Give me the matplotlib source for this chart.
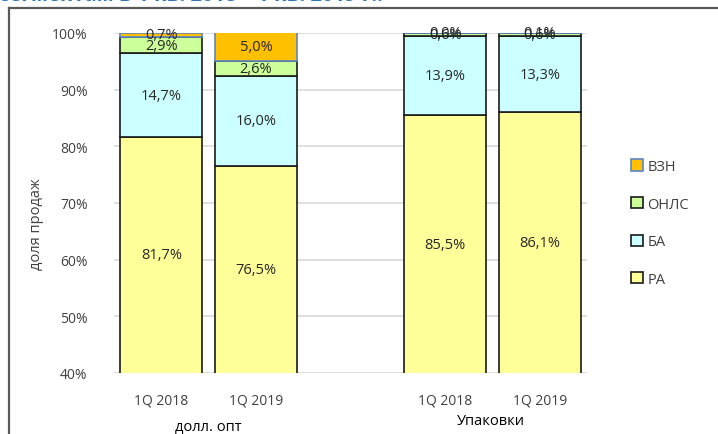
import matplotlib
matplotlib.use("Agg")
import matplotlib.pyplot as plt
from matplotlib.lines import Line2D
from matplotlib.patches import Patch
import numpy as np

plt.rcParams['font.family'] = ['Open Sans', 'DejaVu Sans']

# Data
periods = ["1Q 2018", "1Q 2019", "1Q 2018", "1Q 2019"]
groups = ["долл. опт", "Упаковки"]
segments = ["РА", "БА", "ОНЛС", "ВЗН"]
ra = [81.7, 76.5, 85.5, 86.1]
ba = [14.7, 16.0, 13.9, 13.3]
onls = [2.9, 2.6, 0.6, 0.6]
vzn = [0.7, 5.0, 0.0, 0.1]
yticks = [40, 50, 60, 70, 80, 90, 100]

series = [ra, ba, onls, vzn]
colors = ["#FFFF99", "#CCFFFF", "#CCFF99", "#FFC000"]
edges = ["#1a1a1a", "#1a1a1a", "#1a1a1a", "#5B86C5"]
xpos = np.array([0, 1, 3, 4])
ymin, ymax = yticks[0], yticks[-1]

fig = plt.figure(figsize=(7.18, 4.35), dpi=100)
ax = fig.add_axes([114 / 718, 1 - 374 / 435, (587 - 114) / 718, (374 - 34) / 435])

bottom = np.zeros(len(xpos))
for vals, col, ec in zip(series, colors, edges):
    v = np.array(vals)
    ax.bar(xpos, v, width=0.87, bottom=bottom, color=col, edgecolor=ec,
           linewidth=1.2, zorder=3)
    for x, b, val in zip(xpos, bottom, v):
        # label sits in the middle of the part of the segment inside the axis range
        lo = max(b, ymin)
        hi = min(b + val, ymax)
        ax.text(x, (lo + hi) / 2, f"{val:.1f}%".replace(".", ","),
                ha="center", va="center", fontsize=10.5, color="#262626", zorder=4)
    bottom += v

ax.set_xlim(-0.5, 4.5)
ax.set_ylim(ymin, ymax)
ax.set_yticks(yticks)
ax.set_yticklabels([f"{t}%" for t in yticks], fontsize=10, color="#404040")
ax.set_xticks(xpos)
ax.set_xticklabels(periods, fontsize=10, color="#404040")
ax.tick_params(axis="y", length=0, pad=19)
ax.tick_params(axis="x", length=0, pad=14)
ax.yaxis.grid(True, color="#D9D9D9", linewidth=1.2, zorder=0)
for s in ax.spines.values():
    s.set_visible(False)

# Group captions
fig.text(208 / 718, 1 - 428 / 435, groups[0], ha="center", va="center",
         fontsize=10.5, color="#000000")
fig.text(491 / 718, 1 - 422 / 435, groups[1], ha="center", va="center",
         fontsize=10.5, color="#000000")

# Axis title
fig.text(36 / 718, 1 - 224 / 435, "доля продаж", rotation=90, ha="center",
         va="center", fontsize=10.5, color="#404040")

# Legend
handles = [Patch(facecolor=colors[i], edgecolor=edges[i], linewidth=1.2,
                 label=segments[i]) for i in [3, 2, 1, 0]]
fig.legend(handles=handles, loc="center left",
           bbox_to_anchor=(618 / 718, 1 - 224 / 435), frameon=False,
           fontsize=10.5, handlelength=0.8, handleheight=0.8,
           handletextpad=0.3, labelspacing=1.55, labelcolor="#404040")

# Frame and heading
fig.add_artist(Line2D([9 / 718, 1], [1 - 9 / 435, 1 - 9 / 435],
                      color="#595959", linewidth=1.6, transform=fig.transFigure))
fig.add_artist(Line2D([9 / 718, 9 / 718], [0, 1 - 9 / 435],
                      color="#595959", linewidth=1.6, transform=fig.transFigure))
fig.text(-0.002, 1 + 4 / 435, "сегментам в 1 кв. 2018 – 1 кв. 2019 г.:",
         ha="left", va="center", fontsize=14.5, fontweight="bold", color="#2E75B6")

fig.savefig("out.png", dpi=100)
